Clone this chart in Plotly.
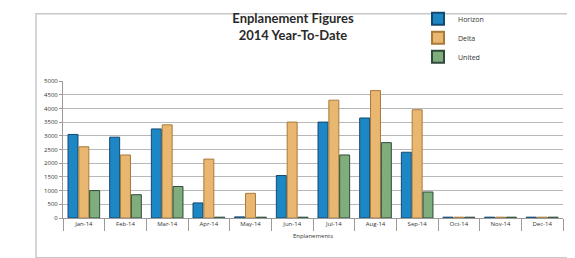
import plotly.graph_objects as go

months = ["Jan-14", "Feb-14", "Mar-14", "Apr-14", "May-14", "Jun-14",
          "Jul-14", "Aug-14", "Sep-14", "Oct-14", "Nov-14", "Dec-14"]
horizon = [3050, 2950, 3250, 550, 40, 1550, 3500, 3650, 2400, 30, 30, 30]
delta = [2600, 2300, 3400, 2150, 900, 3500, 4300, 4650, 3950, 30, 30, 30]
united = [1000, 850, 1150, 30, 30, 30, 2300, 2750, 950, 30, 30, 30]
y_ticks = [0, 500, 1000, 1500, 2000, 2500, 3000, 3500, 4000, 4500, 5000]

fig = go.Figure()
fig.add_trace(go.Bar(name="Horizon", x=months, y=horizon,
                     marker=dict(color="#1d86c4", line=dict(color="#14496e", width=1))))
fig.add_trace(go.Bar(name="Delta", x=months, y=delta,
                     marker=dict(color="#e9b770", line=dict(color="#a87a3a", width=1))))
fig.add_trace(go.Bar(name="United", x=months, y=united,
                     marker=dict(color="#7fae7c", line=dict(color="#2f4a3c", width=1))))

fig.update_layout(
    width=575, height=258,
    margin=dict(l=55, r=20, t=73, b=48, autoexpand=False),
    paper_bgcolor="white", plot_bgcolor="white",
    barmode="group", bargap=0.22, bargroupgap=0.08,
    font=dict(family="Open Sans", size=6, color="#333333"),
    title=dict(text="<b>Enplanement Figures<br>2014 Year-To-Date</b>",
               x=0.46, xref="paper", xanchor="center",
               y=0.943, yanchor="top",
               font=dict(family="Lato", size=13, color="#2a2a2a")),
    legend=dict(x=0.71, y=1.56, xanchor="left", yanchor="top",
                font=dict(size=7, color="#333333"),
                bgcolor="rgba(0,0,0,0)", itemwidth=30, tracegroupgap=0,
                itemsizing="constant"),
    showlegend=True,
    xaxis=dict(title=dict(text="Enplanements", font=dict(size=6), standoff=6),
               showgrid=False, showline=True, linecolor="#9a9a9a",
               ticks="outside", tickson="boundaries", ticklen=12,
               tickcolor="#9a9a9a", tickfont=dict(size=6)),
    yaxis=dict(range=[0, 5000], tickvals=y_ticks, showgrid=True,
               gridcolor="#b8b8b8", gridwidth=1, showline=True,
               linecolor="#9a9a9a", ticks="outside", ticklen=3,
               tickcolor="#9a9a9a", tickfont=dict(size=6), zeroline=False),
    shapes=[dict(type="rect", xref="paper", yref="paper",
                 x0=-0.054, x1=1.03, y0=-0.29, y1=1.49,
                 line=dict(color="#c8c8c8", width=1.5), layer="below")],
)

fig.write_html("out.html")
